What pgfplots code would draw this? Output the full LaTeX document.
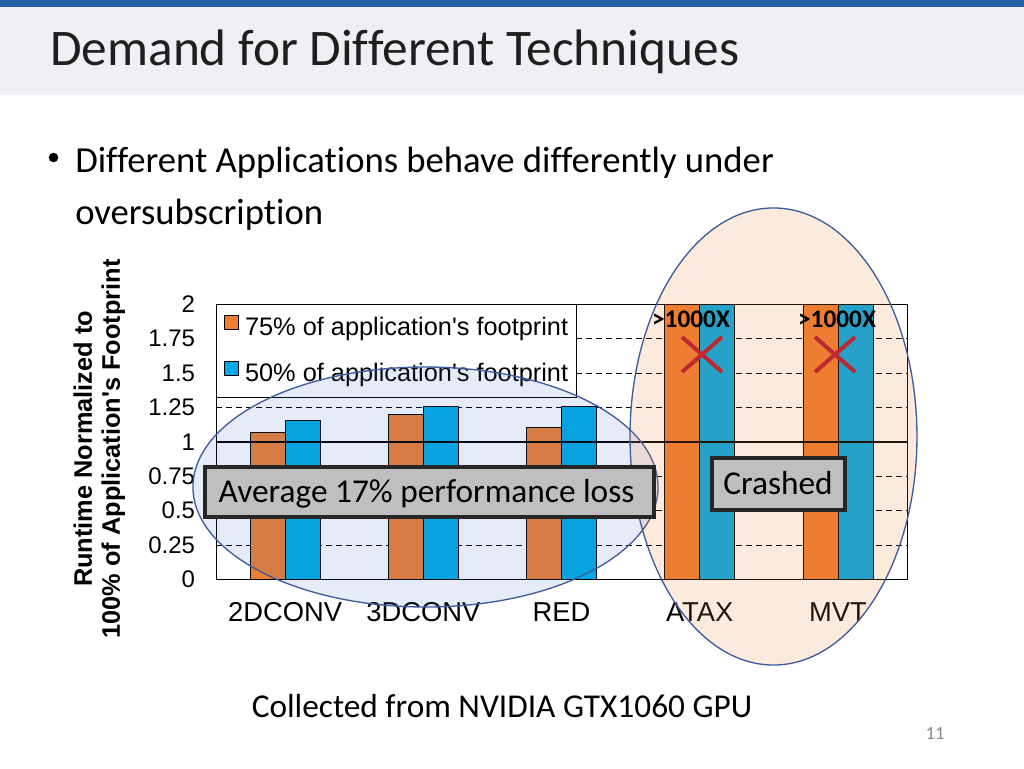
\documentclass[border=0pt]{standalone}
\usepackage{fontspec}
\setmainfont{Carlito}[Ligatures=NoCommon]
\newfontfamily\arial{Liberation Sans}
\usepackage{pgfplots}
\usepackage{pgfplotstable}
\pgfplotsset{compat=1.18}

\definecolor{barorange}{RGB}{237,125,49}
\definecolor{barblue}{RGB}{0,170,230}
\definecolor{topblue}{RGB}{35,96,165}
\definecolor{headgray}{RGB}{238,240,243}
\definecolor{ringblue}{RGB}{62,92,158}
\definecolor{tintblue}{RGB}{68,114,196}
\definecolor{tintorange}{RGB}{237,125,49}
\definecolor{boxgray}{RGB}{191,191,191}
\definecolor{crossred}{RGB}{190,40,48}

% runtime normalized to 100% footprint; ATAX and MVT are >1000x (clipped at 2)
\pgfplotstableread{
x  p75   p50
0  1.066 1.158
1  1.200 1.258
2  1.105 1.258
3  2.000 2.000
4  2.000 2.000
}\runtime

\begin{document}
\begin{tikzpicture}
% slide background, header and bullet text (1 unit = 1 px)
\begin{scope}[x=0.75pt,y=-0.75pt]
  \fill[white] (0,0) rectangle (1024,768);
  \fill[headgray] (0,7) rectangle (1024,95);
  \fill[topblue] (0,0) rectangle (1024,7);
  \node[anchor=base west,inner sep=0pt,font=\fontsize{38.5}{40}\selectfont,text=black!88]
    at (50,65) {Demand for Different Techniques};
  \fill (53.5,157.5) circle (3.6pt);
  \node[anchor=base west,inner sep=0pt,font=\fontsize{27.5}{30}\selectfont]
    at (75,172) {Different Applications behave differently under};
  \node[anchor=base west,inner sep=0pt,font=\fontsize{27.5}{30}\selectfont]
    at (75,224) {oversubscription};
\end{scope}

\begin{axis}[
    at={(162pt,-434.5pt)}, anchor=south west,
    scale only axis, width=518.25pt, height=206.25pt,
    ybar=0pt, bar width=26.25pt,
    xmin=-0.5, xmax=4.5, ymin=0, ymax=2,
    xtick=data, xticklabels={2DCONV,3DCONV,RED,ATAX,MVT},
    ytick={0,0.25,0.5,0.75,1,1.25,1.5,1.75,2},
    yticklabels={0,0.25,0.5,0.75,1,1.25,1.5,1.75,2},
    major tick length=0pt,
    ymajorgrids,
    grid style={black, line width=0.5pt, dash pattern=on 4.5pt off 3pt},
    axis line style={black, line width=0.6pt},
    yticklabel style={font=\arial\fontsize{18}{18}\selectfont, inner sep=0pt, xshift=-15.5pt},
    xticklabel style={font=\arial\fontsize{20.5}{20.5}\selectfont, inner sep=0pt, yshift=-17pt},
    ylabel={Runtime Normalized to\\100\% of Application\textquotesingle s Footprint},
    ylabel style={at={(axis description cs:-0.169,0.474)}, anchor=center, rotate=0,
      align=center, font=\arial\bfseries\fontsize{19}{21}\selectfont},
    legend style={at={(0,1)}, anchor=north west, draw=black, line width=0.6pt,
      fill=white, font=\arial\fontsize{19}{19}\selectfont,
      inner xsep=6pt, inner ysep=8pt, row sep=15.5pt,
      nodes={inner sep=0pt, text height=13.5pt, text depth=4pt}},
    legend cell align=left,
]
\addplot[fill=barorange, draw=black, line width=0.5pt,
  legend image code/.code={\draw[fill=barorange,draw=black,line width=0.5pt] (0pt,-0.5pt) rectangle (10.5pt,10pt);}]
  table[x=x, y=p75] {\runtime};
\addlegendentry{\hspace*{4.5pt}75\% of application\textquotesingle s footprint}
\addplot[fill=barblue, draw=black, line width=0.5pt,
  legend image code/.code={\draw[fill=barblue,draw=black,line width=0.5pt] (0pt,-0.5pt) rectangle (10.5pt,10pt);}]
  table[x=x, y=p50] {\runtime};
\addlegendentry{\hspace*{4.5pt}50\% of application\textquotesingle s footprint}
\draw[black, line width=2pt] (axis cs:-0.5,1) -- (axis cs:4.5,1);
\end{axis}

% highlight ellipses and annotations
\begin{scope}[x=0.75pt,y=-0.75pt]
  \draw[ringblue, line width=1pt, fill=tintblue, fill opacity=0.13]
    (425.5,487) ellipse [x radius=174.4pt, y radius=90pt];
  \draw[ringblue, line width=1pt, fill=tintorange, fill opacity=0.16]
    (773.5,436.5) ellipse [x radius=107.6pt, y radius=171.4pt];

  \draw[crossred, line width=3pt] (682,337) -- (722,372) (682,372) -- (722,337);
  \draw[crossred, line width=3pt] (815,337) -- (855,372) (815,372) -- (855,337);
  \node[anchor=base,inner sep=0pt,font=\bfseries\fontsize{19}{19}\selectfont] at (691,327) {>1000X};
  \node[anchor=base,inner sep=0pt,font=\bfseries\fontsize{19}{19}\selectfont] at (837,327) {>1000X};

  \draw[black!85, line width=2.6pt, fill=boxgray] (205,467) rectangle (654,517);
  \node[anchor=base,inner sep=0pt,font=\fontsize{25}{25}\selectfont] at (426.5,502)
    {Average 17\% performance loss};
  \draw[black!85, line width=2.4pt, fill=boxgray] (712,458) rectangle (845,510);
  \node[anchor=base,inner sep=0pt,font=\fontsize{25}{25}\selectfont] at (778,494) {Crashed};

  \node[anchor=base,inner sep=0pt,font=\fontsize{25}{25}\selectfont] at (502,717)
    {Collected from NVIDIA GTX1060 GPU};
  \node[anchor=base,inner sep=0pt,text=black!45,font=\fontsize{14}{14}\selectfont] at (935,739) {11};
\end{scope}
\pgfresetboundingbox
\path[x=0.75pt,y=-0.75pt] (0,0) rectangle (1024,768);
\end{tikzpicture}
\end{document}
